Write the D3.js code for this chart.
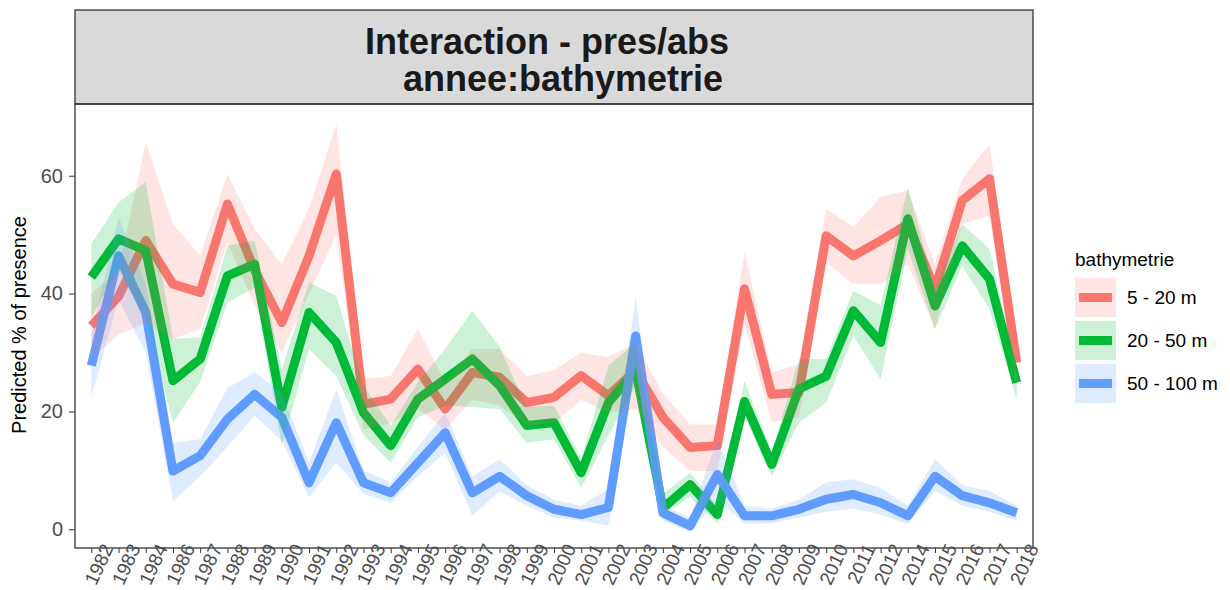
<!DOCTYPE html>
<html>
<head>
<meta charset="utf-8">
<script src="https://cdn.jsdelivr.net/npm/d3@7"></script>
<style>
  body { margin: 0; background: #fff; }
  text { font-family: "Liberation Sans", Arial, sans-serif; }
</style>
</head>
<body>
<svg class="chart"></svg>
<script>
var years = ["1982","1983","1984","1986","1987","1988","1989","1990","1991","1992","1993","1994","1995","1996","1997","1998","1999","2000","2001","2002","2003","2004","2005","2006","2007","2008","2009","2010","2011","2012","2014","2015","2016","2017","2018"];
var groups = ["5 - 20 m", "20 - 50 m", "50 - 100 m"];

// predicted values
var fit_5_20 = [34.5, 39.5, 49, 41.6, 40.2, 55.2, 44, 35.1, 46.4, 60.3, 21.2, 22.1, 27.2, 20.4, 26.6, 25.8, 21.5, 22.4, 26.1, 22.7, 27, 19, 13.9, 14.2, 40.8, 22.9, 23.2, 49.8, 46.4, 49, 51.8, 40.8, 55.8, 59.5, 28.3];
var fit_20_50 = [42.8, 49.3, 47.3, 25.2, 28.9, 43, 45, 20.7, 36.8, 31.7, 19.8, 14.2, 22.1, 25.5, 28.9, 24.4, 17.6, 18.1, 9.6, 21.5, 27, 3.6, 7.6, 2.5, 21.7, 11, 23.8, 26, 37.1, 31.7, 52.7, 37.9, 48.1, 42.5, 24.9];
var fit_50_100 = [27.8, 46.4, 36.8, 9.9, 12.5, 18.7, 22.9, 19, 7.9, 18.1, 7.9, 6.2, 11.3, 16.4, 6.2, 9, 5.7, 3.4, 2.5, 3.7, 32.8, 2.8, 0.6, 9.3, 2.3, 2.3, 3.4, 5.1, 5.9, 4.5, 2.3, 9, 5.7, 4.5, 2.8];

// confidence bands
var lo_5_20 = [29, 33, 35, 32.3, 34, 48.7, 38, 30, 40, 50, 17, 18, 20.4, 17, 22, 21, 17.6, 18, 22, 19.8, 20.4, 14, 9.9, 9.9, 35, 18.2, 19, 45.3, 41.6, 41.6, 45, 34, 51.8, 53.2, 24];
var hi_5_20 = [40, 44, 65.7, 51.8, 46.4, 60.3, 51, 45, 54.4, 68.8, 25.5, 26, 34, 25, 30.6, 30.6, 26, 27, 30, 29.2, 31.7, 23, 17.8, 17.8, 47, 26.6, 28, 54.4, 51.3, 56.4, 57.5, 45, 59.5, 65.4, 32];
var lo_20_50 = [36, 44.2, 36, 18.1, 25, 38.5, 41, 14.2, 30.6, 26, 16, 11.3, 19, 21, 20.7, 20.4, 14.7, 15.3, 7, 15.9, 24.4, 2.5, 5.5, 1, 19, 9, 18.1, 21.5, 32.8, 25.5, 47.6, 34, 44.7, 37.4, 22.1];
var hi_20_50 = [48.4, 55.5, 58.9, 32.3, 32.6, 48.1, 49, 27.2, 41.9, 39.6, 24.4, 17.6, 25, 30.6, 37.1, 31, 20.7, 21, 12, 27.8, 31.7, 6, 9.6, 4, 25.2, 13, 28.9, 28.9, 40.5, 38, 58, 41, 51.8, 47.6, 27];
var lo_50_100 = [22.4, 39, 30, 4.8, 9, 14, 19.3, 15, 5.4, 11.3, 6, 4.5, 9, 13, 2.3, 6.5, 4, 2, 1.5, 0.6, 27, 1.5, -0.5, 5, 1, 1, 2, 3, 3.5, 2.5, 0.8, 6.5, 4, 3, 1.5];
var hi_50_100 = [33, 53, 41.6, 14.7, 15.3, 24, 26.6, 23.2, 11.3, 23.8, 10, 8, 14, 19.8, 9, 11.9, 7.5, 5, 4, 6.8, 39.4, 4, 2, 15.3, 4, 3.5, 5, 8, 8.5, 7, 4, 11.9, 7.5, 6.5, 4];

var yTicks = [0, 20, 40, 60];
var colors = ["#F8766D", "#00BA38", "#619CFF"];

var fits = [fit_5_20, fit_20_50, fit_50_100];
var los = [lo_5_20, lo_20_50, lo_50_100];
var his = [hi_5_20, hi_20_50, hi_50_100];

var width = 1230;
var height = 590;
var pLeft = 75, pRight = 1033, pTop = 104, pBottom = 548;

var svg = d3.select(".chart").attr("width", width).attr("height", height);

var x = d3.scalePoint()
    .domain(years)
    .range([pLeft, pRight])
    .padding(0.6);

var y = d3.scaleLinear()
    .domain([-3.17, 72.17])
    .range([pBottom, pTop]);

// strip with title
svg.append("rect")
    .attr("x", pLeft).attr("y", 10)
    .attr("width", pRight - pLeft).attr("height", pTop - 10)
    .attr("fill", "#D9D9D9")
    .attr("stroke", "#333").attr("stroke-width", 1.3);

svg.append("text")
    .attr("x", 547).attr("y", 54)
    .attr("text-anchor", "middle")
    .style("font-size", "36px").style("font-weight", "bold")
    .attr("fill", "#1a1a1a")
    .text("Interaction - pres/abs");

svg.append("text")
    .attr("x", 563).attr("y", 91)
    .attr("text-anchor", "middle")
    .style("font-size", "36px").style("font-weight", "bold")
    .attr("fill", "#1a1a1a")
    .text("annee:bathymetrie");

svg.append("clipPath").attr("id", "clip")
  .append("rect")
    .attr("x", pLeft).attr("y", pTop)
    .attr("width", pRight - pLeft).attr("height", pBottom - pTop);

var plot = svg.append("g").attr("clip-path", "url(#clip)");

var line = d3.line()
    .x(function(d){ return x(d.year); })
    .y(function(d){ return y(d.fit); });

var area = d3.area()
    .x(function(d){ return x(d.year); })
    .y0(function(d){ return y(d.lo); })
    .y1(function(d){ return y(d.hi); });

function rows(g) {
  return years.map(function(yr, i){
    return {year: yr, fit: fits[g][i], lo: los[g][i], hi: his[g][i]};
  });
}

// lines first, ribbons drawn over them
var g = 0;
while (g < groups.length) {
  plot.append("path")
      .datum(rows(g))
      .attr("d", line)
      .attr("fill", "none")
      .attr("stroke", colors[g])
      .attr("stroke-width", 9)
      .attr("stroke-linejoin", "round");
  g += 1;
}

g = 0;
while (g < groups.length) {
  plot.append("path")
      .datum(rows(g))
      .attr("d", area)
      .attr("fill", colors[g])
      .attr("fill-opacity", 0.2);
  g += 1;
}

// panel border
svg.append("rect")
    .attr("x", pLeft).attr("y", pTop)
    .attr("width", pRight - pLeft).attr("height", pBottom - pTop)
    .attr("fill", "none")
    .attr("stroke", "#333").attr("stroke-width", 1.3);

var yAxis = svg.append("g")
    .attr("transform", "translate(" + pLeft + ",0)")
    .call(d3.axisLeft(y).tickValues(yTicks).tickSize(6).tickPadding(6));
yAxis.select(".domain").remove();
yAxis.selectAll("line").attr("stroke", "#333");
yAxis.selectAll("text")
    .attr("fill", "#4D4D4D")
    .style("font-size", "20px")
    .style("font-family", "Liberation Sans, Arial, sans-serif");

var xAxis = svg.append("g")
    .attr("transform", "translate(0," + pBottom + ")")
    .call(d3.axisBottom(x).tickSize(5));
xAxis.select(".domain").remove();
xAxis.selectAll("line").attr("stroke", "#333");
xAxis.selectAll("text")
    .attr("fill", "#4D4D4D")
    .attr("text-anchor", "end")
    .attr("y", 0).attr("dy", 0)
    .attr("transform", "translate(22,0) rotate(-65)")
    .style("font-size", "19px")
    .style("font-family", "Liberation Sans, Arial, sans-serif");

svg.append("text")
    .attr("transform", "translate(26,325) rotate(-90)")
    .attr("text-anchor", "middle")
    .style("font-size", "20px")
    .text("Predicted % of presence");

// legend
svg.append("text")
    .attr("x", 1075).attr("y", 266)
    .style("font-size", "19px")
    .text("bathymetrie");

var keyY = [278, 321, 364];
var k = 0;
while (k < groups.length) {
  svg.append("rect")
      .attr("x", 1075).attr("y", keyY[k])
      .attr("width", 41).attr("height", 39)
      .attr("fill", colors[k]).attr("fill-opacity", 0.2);
  svg.append("line")
      .attr("x1", 1079).attr("x2", 1112)
      .attr("y1", keyY[k] + 19.5).attr("y2", keyY[k] + 19.5)
      .attr("stroke", colors[k]).attr("stroke-width", 9);
  svg.append("text")
      .attr("x", 1127).attr("y", keyY[k] + 26)
      .style("font-size", "19px")
      .text(groups[k]);
  k += 1;
}
</script>
</body>
</html>
